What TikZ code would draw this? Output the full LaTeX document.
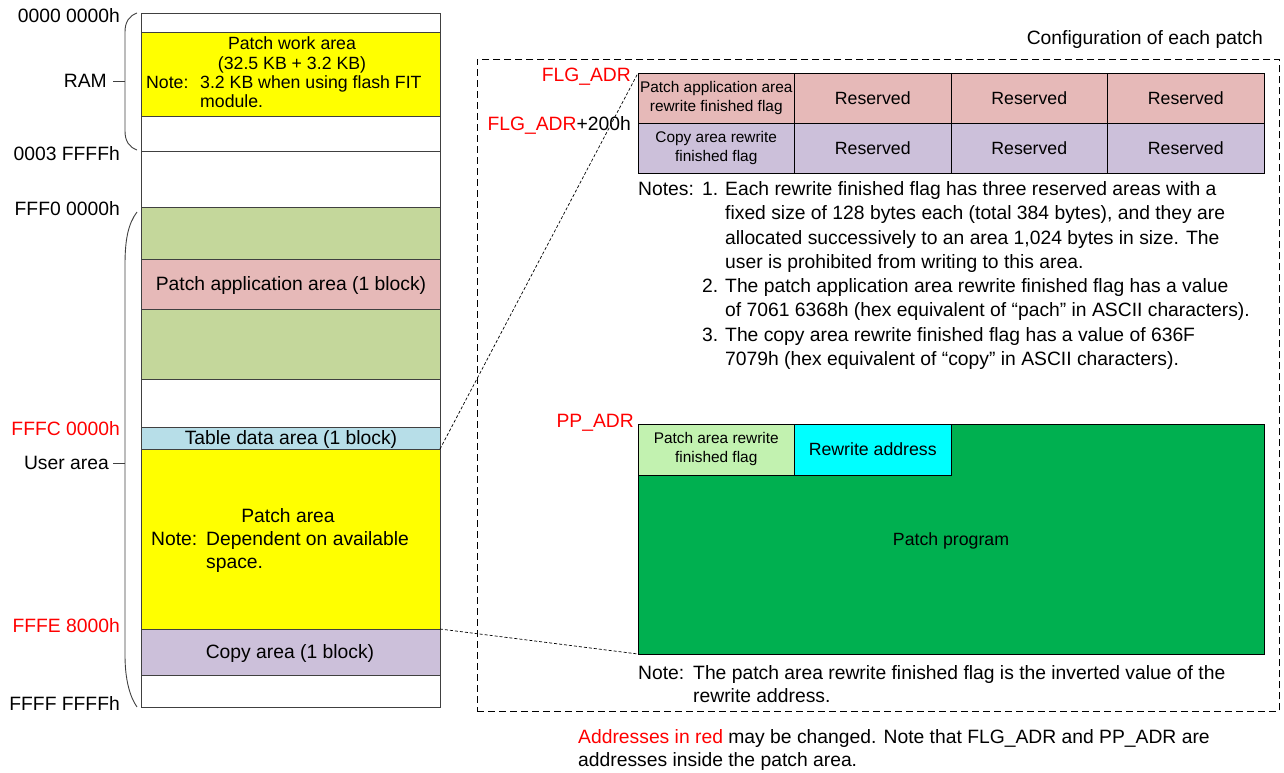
\documentclass[tikz,border=0pt]{standalone}
\usepackage{fontspec}
\setmainfont{Liberation Sans}
\definecolor{cyel}{HTML}{FFFF00}
\definecolor{cgrn}{HTML}{C4D79B}
\definecolor{cpink}{HTML}{E6B9B8}
\definecolor{cblue}{HTML}{B7DEE8}
\definecolor{clav}{HTML}{CCC0DA}
\definecolor{cgreen}{HTML}{00B050}
\definecolor{clgreen}{HTML}{C2F2B0}
\definecolor{ccyan}{HTML}{00FFFF}
\definecolor{cred}{HTML}{FF0000}
\definecolor{cline}{HTML}{404040}
\begin{document}
\begin{tikzpicture}[x=1pt,y=-1pt,
 blk/.style={draw=cline, line width=0.9pt, anchor=north west, inner sep=0pt, outer sep=0pt, minimum width=299pt},
 cellbox/.style={draw=black, line width=0.9pt, anchor=north west, inner sep=0pt, outer sep=0pt},
 txt/.style={font=\fontsize{19.3}{24}\selectfont, inner sep=0pt, text height=13.8pt, text depth=0pt},
 mid/.style={font=\fontsize{17.7}{22}\selectfont, inner sep=0pt, text height=12.7pt, text depth=0pt},
 small/.style={font=\fontsize{15.4}{19}\selectfont, inner sep=0pt, align=center},
 brace/.style={draw=cline, line width=0.9pt},
 conn/.style={draw=black, line width=0.7pt, dash pattern=on 3pt off 2pt},
 frame/.style={draw=black, line width=0.8pt, dash pattern=on 7pt off 4pt},
 ]
\useasboundingbox (0,0) rectangle (1284,773);
% ---------- memory map ----------
\node[blk, minimum height=19pt] (top) at (141,13) {};
\node[blk, fill=cyel, minimum height=84pt] (work) at (141,32) {};
\node[blk, minimum height=35pt] (ramend) at (141,116) {};
\node[blk, minimum height=56pt] (gap) at (141,151) {};
\node[blk, fill=cgrn, minimum height=52pt] (gA) at (141,207) {};
\node[blk, fill=cpink, minimum height=50pt] (app) at (141,259) {};
\node[blk, fill=cgrn, minimum height=70pt] (gB) at (141,309) {};
\node[blk, minimum height=48pt] (free) at (141,379) {};
\node[blk, fill=cblue, minimum height=22pt] (tbl) at (141,427) {};
\node[blk, fill=cyel, minimum height=180pt] (patch) at (141,449) {};
\node[blk, fill=clav, minimum height=46pt] (copy) at (141,629) {};
\node[blk, minimum height=32pt] (bot) at (141,675) {};
% texts in the map
\node[mid] (tw1) at (292,43) {Patch work area};
\node[mid] (tw2) at (292,63) {(32.5 KB + 3.2 KB)};
\node[mid, anchor=west] (tw3) at (146,82) {Note:};
\node[mid, anchor=west] (tw4) at (200,82) {3.2 KB when using flash FIT};
\node[mid, anchor=west] (tw5) at (200,101) {module.};
\node[txt] (tapp) at (291,284) {Patch application area (1 block)};
\node[txt] (ttbl) at (291,438) {Table data area (1 block)};
\node[txt] (tp1) at (288,516) {Patch area};
\node[txt, anchor=west] (tp2) at (151,539) {Note:};
\node[txt, anchor=west] (tp3) at (206,539) {Dependent on available};
\node[txt, anchor=west] (tp4) at (206,562) {space.};
\node[txt] (tcopy) at (290,652) {Copy area (1 block)};
% left labels
\node[txt, anchor=east] (a0) at (120,16) {0000 0000h};
\node[txt, anchor=east] (aram) at (107,81) {RAM};
\node[txt, anchor=east] (a1) at (120,154) {0003 FFFFh};
\node[txt, anchor=east] (a2) at (120,209) {FFF0 0000h};
\node[txt, anchor=east, text=cred] (a3) at (120,429) {FFFC 0000h};
\node[txt, anchor=east] (auser) at (109,463) {User area};
\node[txt, anchor=east, text=cred] (a4) at (120,626) {FFFE 8000h};
\node[txt, anchor=east] (a5) at (120,704) {FFFF FFFFh};
% braces
\coordinate (rb1) at (137,13);
\coordinate (rb2) at (137,150);
\coordinate (rbm) at (125,81);
\coordinate (rbt) at (113,81);
\draw[brace] (rb1) .. controls (129,16) and (125,22) .. (125,32) -- (125,131) .. controls (125,141) and (129,147) .. (rb2);
\draw[brace] (rbt) -- (rbm);
\coordinate (ub1) at (137,212);
\coordinate (ub2) at (137,707);
\coordinate (ubm) at (125,463);
\coordinate (ubt) at (113,463);
\draw[brace] (ub1) .. controls (128,224) and (125,240) .. (125,265) -- (125,655) .. controls (125,680) and (130,697) .. (ub2);
\draw[brace] (ubt) -- (ubm);
% ---------- configuration frame ----------
\node[frame, anchor=north west, inner sep=0pt, minimum width=802pt, minimum height=652pt] (cfg) at (477,59) {};
\node[txt, anchor=east] (cfgt) at (1263,38) {Configuration of each patch};
% flag table
\node[cellbox, fill=cpink, minimum width=156.5pt, minimum height=50pt] (f11) at (638,73) {};
\node[cellbox, fill=cpink, minimum width=156.5pt, minimum height=50pt] (f12) at (794.5,73) {};
\node[cellbox, fill=cpink, minimum width=156.5pt, minimum height=50pt] (f13) at (951,73) {};
\node[cellbox, fill=cpink, minimum width=156.5pt, minimum height=50pt] (f14) at (1107.5,73) {};
\node[cellbox, fill=clav, minimum width=156.5pt, minimum height=50pt] (f21) at (638,123) {};
\node[cellbox, fill=clav, minimum width=156.5pt, minimum height=50pt] (f22) at (794.5,123) {};
\node[cellbox, fill=clav, minimum width=156.5pt, minimum height=50pt] (f23) at (951,123) {};
\node[cellbox, fill=clav, minimum width=156.5pt, minimum height=50pt] (f24) at (1107.5,123) {};
\node[small] (t11) at (f11.center) {Patch application area\\rewrite finished flag};
\node[mid] (t12) at (f12.center) {Reserved};
\node[mid] (t13) at (f13.center) {Reserved};
\node[mid] (t14) at (f14.center) {Reserved};
\node[small] (t21) at (f21.center) {Copy area rewrite\\finished flag};
\node[mid] (t22) at (f22.center) {Reserved};
\node[mid] (t23) at (f23.center) {Reserved};
\node[mid] (t24) at (f24.center) {Reserved};
\node[txt, anchor=east, text=cred] (lflg) at (631,75) {FLG\_ADR};
\node[txt, anchor=east] (lflg2) at (631,124) {\textcolor{cred}{FLG\_ADR}+200h};
% notes
\node[txt, anchor=west] (n0) at (638,189) {Notes:};
\node[txt, anchor=west] (n1a) at (702,189) {1.};
\node[txt, anchor=west] (n1) at (725,189) {Each rewrite finished flag has three reserved areas with a};
\node[txt, anchor=west] (n2) at (725,213) {fixed size of 128 bytes each (total 384 bytes), and they are};
\node[txt, anchor=west] (n3) at (725,238) {allocated successively to an area 1,024 bytes in size. The};
\node[txt, anchor=west] (n4) at (725,262) {user is prohibited from writing to this area.};
\node[txt, anchor=west] (n5a) at (702,286) {2.};
\node[txt, anchor=west] (n5) at (725,286) {The patch application area rewrite finished flag has a value};
\node[txt, anchor=west] (n6) at (725,310) {of 7061 6368h (hex equivalent of “pach” in ASCII characters).};
\node[txt, anchor=west] (n7a) at (702,335) {3.};
\node[txt, anchor=west] (n7) at (725,335) {The copy area rewrite finished flag has a value of 636F};
\node[txt, anchor=west] (n8) at (725,359) {7079h (hex equivalent of “copy” in ASCII characters).};
% patch program box
\node[cellbox, fill=cgreen, minimum width=626pt, minimum height=230pt] (pp) at (638,424) {};
\node[cellbox, fill=clgreen, minimum width=156.5pt, minimum height=51pt] (ppf) at (638,424) {};
\node[cellbox, fill=ccyan, minimum width=156.5pt, minimum height=51pt] (ppr) at (794.5,424) {};
\node[small] (tppf) at (ppf.center) {Patch area rewrite\\finished flag};
\node[mid] (tppr) at (ppr.center) {Rewrite address};
\node[mid] (tpp) at (951,539) {Patch program};
\node[txt, anchor=east, text=cred] (lpp) at (634,421) {PP\_ADR};
\node[txt, anchor=west] (pn0) at (638,673) {Note:};
\node[txt, anchor=west] (pn1) at (693,673) {The patch area rewrite finished flag is the inverted value of the};
\node[txt, anchor=west] (pn2) at (693,696) {rewrite address.};
% connectors
\draw[conn] (tbl.south east) -- (f11.north west);
\draw[conn] (patch.south east) -- (pp.south west);
% bottom remark
\node[txt, anchor=west] (b1) at (578,737) {\textcolor{cred}{Addresses in red} may be changed. Note that FLG\_ADR and PP\_ADR are};
\node[txt, anchor=west] (b2) at (578,760) {addresses inside the patch area.};
\end{tikzpicture}
\end{document}
